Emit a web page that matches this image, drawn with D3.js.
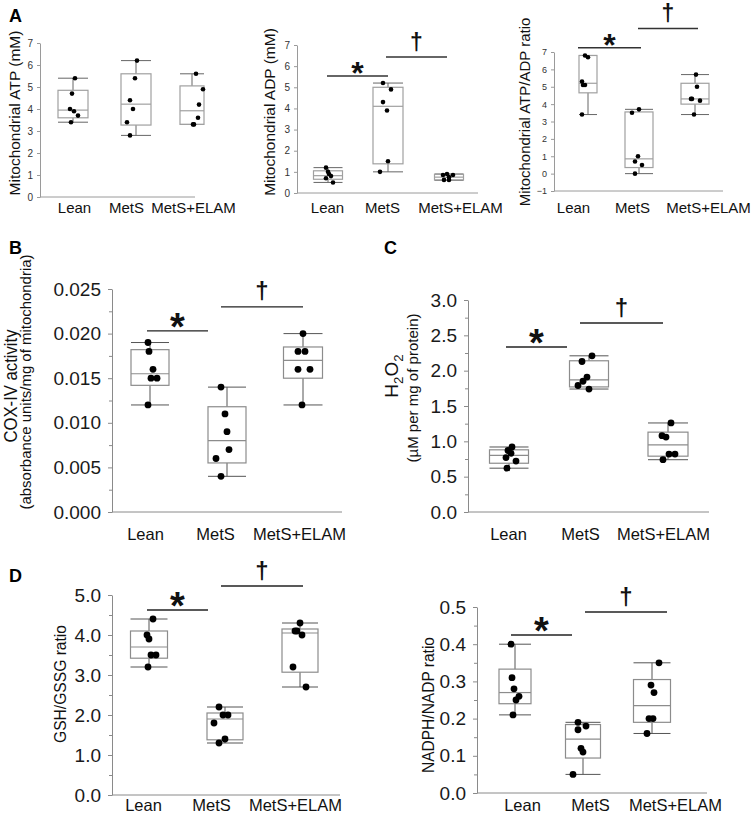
<!DOCTYPE html>
<html><head><meta charset="utf-8">
<script src="https://cdn.jsdelivr.net/npm/d3@7"></script>
<style>body{margin:0;background:#fff}</style>
</head><body>
<svg id="c" width="754" height="814"></svg>
<script>
const FONT = "'Liberation Sans', Arial, sans-serif";
const categories = ["Lean", "MetS", "MetS+ELAM"];

// A1: Mitochondrial ATP (mM)
const atpLean = [5.4, 4.7, 4.0, 3.9, 3.7, 3.4];
const atpMetS = [6.2, 5.4, 4.4, 4.0, 3.4, 2.8];
const atpElam = [5.6, 4.9, 4.2, 3.6, 3.3, 3.3];
const atpBox = [[3.4, 3.6, 3.95, 4.85, 5.4], [2.8, 3.27, 4.22, 5.6, 6.2], [3.3, 3.3, 3.92, 5.05, 5.6]];
const atpTicks = [0, 1, 2, 3, 4, 5, 6, 7];

// A2: Mitochondrial ADP (mM)
const adpLean = [1.2, 1.0, 0.9, 0.8, 0.7, 0.5];
const adpMetS = [5.2, 4.9, 4.3, 3.9, 1.5, 1.0];
const adpElam = [0.9, 0.85, 0.85, 0.75, 0.62, 0.62];
const adpBox = [[0.5, 0.65, 0.82, 1.05, 1.2], [1.0, 1.38, 4.1, 5.0, 5.2], [0.6, 0.62, 0.75, 0.88, 0.9]];
const adpTicks = [0, 1, 2, 3, 4, 5, 6, 7];
const adpSig = [5.53, 6.43];

// A3: Mitochondrial ATP/ADP ratio
const ratioLean = [6.8, 6.7, 5.3, 5.1, 5.1, 3.4];
const ratioMetS = [3.7, 3.5, 1.0, 0.7, 0.5, 0.0];
const ratioElam = [5.7, 5.0, 4.3, 4.3, 4.2, 3.4];
const ratioBox = [[3.4, 4.65, 5.2, 6.8, 6.8], [0, 0.35, 0.85, 3.55, 3.7], [3.4, 4.0, 4.3, 5.2, 5.7]];
const ratioTicks = [-1, 0, 1, 2, 3, 4, 5, 6, 7];
const ratioSig = [7.25, 8.35];

// B: COX-IV activity
const coxLean = [0.019, 0.018, 0.016, 0.015, 0.015, 0.012];
const coxMetS = [0.014, 0.011, 0.009, 0.007, 0.006, 0.004];
const coxElam = [0.020, 0.018, 0.018, 0.016, 0.016, 0.012];
const coxBox = [[0.012, 0.0142, 0.0155, 0.0182, 0.019], [0.004, 0.0055, 0.008, 0.0118, 0.014], [0.012, 0.015, 0.017, 0.0185, 0.020]];
const coxTicks = [0, 0.005, 0.010, 0.015, 0.020, 0.025];
const coxMinor = [0.0025, 0.0075, 0.0125, 0.0175, 0.0225];
const coxSig = [0.0203, 0.0230];

// C: H2O2
const h2o2Lean = [0.92, 0.87, 0.83, 0.77, 0.72, 0.62];
const h2o2MetS = [2.21, 2.13, 1.91, 1.85, 1.79, 1.74];
const h2o2Elam = [1.26, 1.08, 1.06, 0.82, 0.82, 0.74];
const h2o2Box = [[0.62, 0.69, 0.80, 0.88, 0.92], [1.74, 1.77, 1.87, 2.14, 2.21], [0.74, 0.79, 0.95, 1.13, 1.26]];
const h2o2Ticks = [0, 0.5, 1.0, 1.5, 2.0, 2.5, 3.0];
const h2o2Minor = [0.25, 0.75, 1.25, 1.75, 2.25, 2.75];
const h2o2Sig = [2.335, 2.674];

// D1: GSH/GSSG ratio
const gshLean = [4.4, 4.0, 3.9, 3.5, 3.5, 3.2];
const gshMetS = [2.2, 2.0, 2.0, 1.8, 1.4, 1.3];
const gshElam = [4.3, 4.1, 4.1, 4.0, 3.2, 2.7];
const gshBox = [[3.2, 3.42, 3.7, 4.1, 4.4], [1.3, 1.38, 1.9, 2.05, 2.2], [2.7, 3.07, 4.05, 4.15, 4.3]];
const gshTicks = [0, 1, 2, 3, 4, 5];
const gshMinor = [0.5, 1.5, 2.5, 3.5, 4.5];
const gshSig = [4.625, 5.225];

// D2: NADPH/NADP ratio
const nadphLean = [0.40, 0.31, 0.28, 0.26, 0.25, 0.21];
const nadphMetS = [0.19, 0.18, 0.17, 0.12, 0.11, 0.05];
const nadphElam = [0.35, 0.29, 0.27, 0.20, 0.20, 0.16];
const nadphBox = [[0.21, 0.24, 0.27, 0.333, 0.40], [0.05, 0.094, 0.145, 0.184, 0.19], [0.16, 0.19, 0.235, 0.305, 0.35]];
const nadphTicks = [0, 0.1, 0.2, 0.3, 0.4, 0.5];
const nadphMinor = [0.05, 0.15, 0.25, 0.35, 0.45];
const nadphSig = [0.4247, 0.4866];

const sigPairs = [{from: 0, to: 1, sym: "*"}, {from: 1, to: 2, sym: "\u2020"}];

const small = {tickFont: 10, catFont: 15, dotR: 2.3, tickLen: 3, tickPad: 4, minorLen: 0,
  axisColor: "#9a9a9a", tickColor: "#333", boxColor: "#a0a0a0", whiskColor: "#666",
  sigColor: "#333", sigW: 1.5, starSize: 32, starGap: 7.5, daggerSize: 23};
const big = {tickFont: 19, catFont: 16.5, dotR: 3.4, tickLen: 4, tickPad: 7, minorLen: 3,
  axisColor: "#8a8a8a", tickColor: "#1a1a1a", boxColor: "#8c8c8c", whiskColor: "#555",
  sigColor: "#222", sigW: 1.4, starSize: 38, starGap: 10, daggerSize: 24};

const panels = [
  {groups: [atpLean, atpMetS, atpElam], boxes: atpBox, ticks: atpTicks, minor: [], fmt: d3.format("d"), domain: [0, 7], sig: null,
   L: Object.assign({}, small, {axisX: 40, axisEnd: 195, yTop: 43, yBot: 197, boxX: [73, 136, 192], boxW: [30, 30, 24],
     labelX: [74, 126, 193], labelY: 213,
     jitter: [[2, -1, -3, 1, 5, -2], [1, -1, -6, -3, -9, -6], [4, 11, 7, 6, 1, 2]],
     titles: [{text: "Mitochondrial ATP (mM)", x: 20, y: 113, size: 15.5}]})},
  {groups: [adpLean, adpMetS, adpElam], boxes: adpBox, ticks: adpTicks, minor: [], fmt: d3.format("d"), domain: [0, 7], sig: adpSig,
   L: Object.assign({}, small, {axisX: 297, axisEnd: 478, yTop: 45, yBot: 193, boxX: [328, 388, 449], boxW: [29, 30, 29],
     labelX: [327, 382, 460], labelY: 213,
     jitter: [[-2, 0, 1, 3, -2, 5], [-5, 3, -5, -1, 0, -8], [-2, -6, 4, 0, -5, 0]],
     sigDx: [[-1, 0], [-2, -2]],
     titles: [{text: "Mitochondrial ADP (mM)", x: 275, y: 112, size: 15.5}]})},
  {groups: [ratioLean, ratioMetS, ratioElam], boxes: ratioBox, ticks: ratioTicks, minor: [], fmt: d3.format("d"), domain: [-1, 7], sig: ratioSig,
   L: Object.assign({}, small, {tickFont: 9, axisX: 554, axisEnd: 723, yTop: 52, yBot: 191, boxX: [588, 639, 695], boxW: [18, 28, 28],
     labelX: [573, 632, 708], labelY: 213,
     jitter: [[-3, 0, -6, -5, -3, -6], [0, -7, -1, -4, 3, -4], [1, 2, -4, -3, 5, -1]],
     sigDx: [[-10, 2], [-1, 3]],
     titles: [{text: "Mitochondrial ATP/ADP ratio", x: 530, y: 112, size: 15}]})},
  {groups: [coxLean, coxMetS, coxElam], boxes: coxBox, ticks: coxTicks, minor: coxMinor, fmt: d3.format(".3f"), domain: [0, 0.025], sig: coxSig,
   L: Object.assign({}, big, {axisX: 112, axisEnd: 342, yTop: 289, yBot: 512, boxX: [150, 227, 303], boxW: [38, 38, 39],
     labelX: [145, 215, 299], labelY: 540,
     jitter: [[-2, -1, 3, 1, 7, -2], [-6, -2, 0, 2, -11, -6], [0, -5, 2, -5, 7, -1]],
     sigDx: [[-3, -19], [-6, 0]],
     titles: [{text: "COX-IV activity", x: 17, y: 386, size: 19, len: 113},
              {text: "(absorbance units/mg of mitochondria)", x: 31, y: 382, size: 14.5, len: 255}]})},
  {groups: [h2o2Lean, h2o2MetS, h2o2Elam], boxes: h2o2Box, ticks: h2o2Ticks, minor: h2o2Minor, fmt: d3.format(".1f"), domain: [0, 3], sig: h2o2Sig,
   L: Object.assign({}, big, {axisX: 468, axisEnd: 709, yTop: 300, yBot: 512, boxX: [509, 589, 668], boxW: [39, 39, 40],
     labelX: [508, 580, 663], labelY: 540,
     jitter: [[3, -1, 2, -3, 7, -2], [3, -7, -2, -6, -11, 0], [3, -6, -2, 1, 7, -5]],
     sigDx: [[-3, -22], [-9, -5]],
     titles: [{h2o2: true, x: 398, y: 376, size: 19},
              {text: "(\u00b5M per mg of protein)", x: 418, y: 388, size: 14.5, len: 149}]})},
  {groups: [gshLean, gshMetS, gshElam], boxes: gshBox, ticks: gshTicks, minor: gshMinor, fmt: d3.format(".1f"), domain: [0, 5], sig: gshSig,
   L: Object.assign({}, big, {axisX: 112, axisEnd: 340, yTop: 595, yBot: 795, boxX: [149, 225, 300], boxW: [37, 36, 36],
     labelX: [143, 211, 295], labelY: 811,
     jitter: [[4, -2, 0, 2, 7, -1], [-6, -2, 3, -11, 0, -6], [0, -5, -3, 2, -7, 6]],
     sigDx: [[-2, -17], [-4, 3]],
     titles: [{text: "GSH/GSSG ratio", x: 66, y: 684, size: 16.5, len: 118}]})},
  {groups: [nadphLean, nadphMetS, nadphElam], boxes: nadphBox, ticks: nadphTicks, minor: nadphMinor, fmt: d3.format(".1f"), domain: [0, 0.5], sig: nadphSig,
   L: Object.assign({}, big, {axisX: 477, axisEnd: 707, yTop: 607, yBot: 793, boxX: [515, 583, 652], boxW: [32, 35, 37],
     labelX: [522, 590, 675], labelY: 811,
     jitter: [[-4, -3, -1, 4, 1, -2], [-5, 3, -5, -2, 0, -10], [7, -1, 2, -3, 1, -5]],
     sigDx: [[-4, -11], [2, 15]],
     titles: [{text: "NADPH/NADP ratio", x: 434, y: 705, size: 16.5, len: 136}]})}
];

const letters = [{t: "A", x: 9, y: 22}, {t: "B", x: 9, y: 254}, {t: "C", x: 384, y: 254}, {t: "D", x: 9, y: 582}];

const svg = d3.select("#c");

function drawPanel(p) {
  const L = p.L;
  const g = svg.append("g");
  const y = d3.scaleLinear().domain(p.domain).range([L.yBot, L.yTop]);
  const xb = d3.scaleOrdinal(categories, L.boxX);
  const xl = d3.scaleOrdinal(categories, L.labelX);

  if (p.minor.length) {
    const m = g.append("g").attr("transform", `translate(${L.axisX},0)`)
      .call(d3.axisLeft(y).tickValues(p.minor).tickFormat("").tickSize(L.minorLen).tickSizeOuter(0));
    m.select(".domain").remove();
    m.selectAll("line").attr("stroke", L.axisColor);
  }
  const ya = g.append("g").attr("transform", `translate(${L.axisX},0)`)
    .call(d3.axisLeft(y).tickValues(p.ticks).tickFormat(p.fmt).tickSize(L.tickLen).tickPadding(L.tickPad).tickSizeOuter(0));
  ya.select(".domain").attr("stroke", L.axisColor);
  ya.selectAll(".tick line").attr("stroke", L.axisColor);
  ya.selectAll("text").attr("font-size", L.tickFont).attr("fill", L.tickColor).attr("font-family", FONT);

  g.append("line").attr("x1", L.axisX).attr("x2", L.axisEnd)
    .attr("y1", y(p.domain[0])).attr("y2", y(p.domain[0]))
    .attr("stroke", L.axisColor).attr("stroke-width", 1);

  const xa = g.append("g").attr("transform", `translate(0,${L.labelY})`)
    .call(d3.axisBottom(xl).tickSize(0).tickPadding(0));
  xa.select(".domain").remove();
  xa.selectAll("text").attr("dy", 0).attr("y", 0).attr("font-size", L.catFont)
    .attr("fill", "#111").attr("font-family", FONT);

  categories.forEach((c, i) => {
    const s = p.boxes[i], cx = xb(c), w = L.boxW[i];
    const bg = g.append("g");
    bg.append("line").attr("x1", cx).attr("x2", cx).attr("y1", y(s[0])).attr("y2", y(s[1]))
      .attr("stroke", L.whiskColor);
    bg.append("line").attr("x1", cx).attr("x2", cx).attr("y1", y(s[3])).attr("y2", y(s[4]))
      .attr("stroke", L.whiskColor);
    [s[0], s[4]].forEach(v => bg.append("line").attr("x1", cx - w / 2).attr("x2", cx + w / 2)
      .attr("y1", y(v)).attr("y2", y(v)).attr("stroke", L.whiskColor));
    bg.append("rect").attr("x", cx - w / 2).attr("width", w)
      .attr("y", y(s[3])).attr("height", y(s[1]) - y(s[3]))
      .attr("fill", "none").attr("stroke", L.boxColor).attr("stroke-width", 1.2);
    bg.append("line").attr("x1", cx - w / 2).attr("x2", cx + w / 2)
      .attr("y1", y(s[2])).attr("y2", y(s[2])).attr("stroke", L.boxColor).attr("stroke-width", 1.2);
    bg.selectAll("circle").data(p.groups[i]).join("circle")
      .attr("cx", (v, j) => cx + L.jitter[i][j]).attr("cy", v => y(v)).attr("r", L.dotR).attr("fill", "#000");
  });

  if (p.sig) {
    sigPairs.forEach((sp, k) => {
      const ly = y(p.sig[k]);
      const x1 = xb(categories[sp.from]) + L.sigDx[k][0];
      const x2 = xb(categories[sp.to]) + L.sigDx[k][1];
      g.append("line").attr("x1", x1).attr("x2", x2).attr("y1", ly).attr("y2", ly)
        .attr("stroke", L.sigColor).attr("stroke-width", L.sigW);
      const mid = (x1 + x2) / 2;
      if (sp.sym === "*") {
        g.append("text").attr("x", mid).attr("y", ly - L.starGap + 0.49 * L.starSize)
          .attr("text-anchor", "middle").attr("font-family", FONT).attr("font-weight", "bold")
          .attr("font-size", L.starSize).attr("fill", "#111").text("*");
      } else {
        g.append("text").attr("x", mid).attr("y", ly - 4 - 0.14 * L.daggerSize)
          .attr("text-anchor", "middle").attr("font-family", FONT).attr("font-weight", "bold")
          .attr("font-size", L.daggerSize).attr("fill", "#111").text("\u2020");
      }
    });
  }

  L.titles.forEach(t => {
    const tx = g.append("text").attr("transform", `translate(${t.x},${t.y}) rotate(-90)`)
      .attr("text-anchor", "middle").attr("font-family", FONT).attr("font-size", t.size).attr("fill", "#111");
    if (t.h2o2) {
      tx.append("tspan").text("H");
      tx.append("tspan").attr("dy", 5).attr("font-size", t.size * 0.7).text("2");
      tx.append("tspan").attr("dy", -5).text("O");
      tx.append("tspan").attr("dy", 5).attr("font-size", t.size * 0.7).text("2");
    } else {
      tx.text(t.text);
      if (t.len) tx.attr("textLength", t.len).attr("lengthAdjust", "spacingAndGlyphs");
    }
  });
}

panels.forEach(drawPanel);

svg.selectAll("text.letter").data(letters).join("text").attr("class", "letter")
  .attr("x", d => d.x).attr("y", d => d.y).attr("font-family", FONT).attr("font-weight", "bold")
  .attr("font-size", 18).attr("fill", "#000").text(d => d.t);
</script>
</body></html>
